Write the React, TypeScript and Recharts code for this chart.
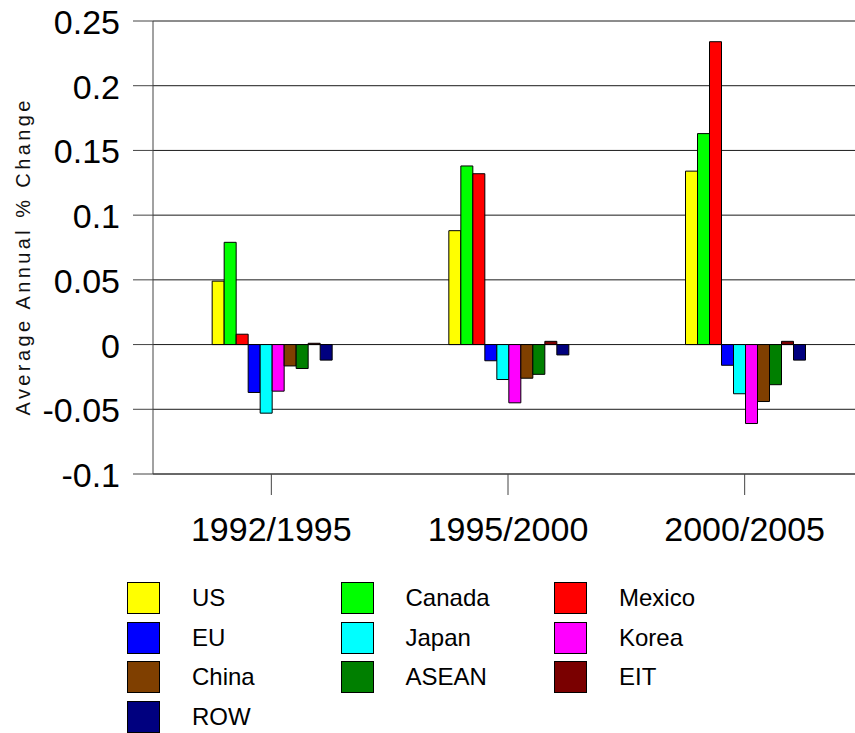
import React from 'react';
import { BarChart, Bar, XAxis, YAxis, CartesianGrid, Legend } from 'recharts';

const categories = ['1992/1995', '1995/2000', '2000/2005'];
const yTicks = [-0.1, -0.05, 0, 0.05, 0.1, 0.15, 0.2, 0.25];

const us = [0.049, 0.088, 0.134];
const canada = [0.079, 0.138, 0.163];
const mexico = [0.008, 0.132, 0.234];
const eu = [-0.037, -0.0125, -0.016];
const japan = [-0.053, -0.027, -0.038];
const korea = [-0.036, -0.045, -0.061];
const china = [-0.0165, -0.026, -0.044];
const asean = [-0.0185, -0.023, -0.031];
const eit = [0.001, 0.0025, 0.0025];
const row = [-0.012, -0.008, -0.012];

const series = [
  { key: 'US', values: us, color: '#ffff00' },
  { key: 'Canada', values: canada, color: '#00ff00' },
  { key: 'Mexico', values: mexico, color: '#ff0000' },
  { key: 'EU', values: eu, color: '#0000ff' },
  { key: 'Japan', values: japan, color: '#00ffff' },
  { key: 'Korea', values: korea, color: '#ff00ff' },
  { key: 'China', values: china, color: '#7f3f00' },
  { key: 'ASEAN', values: asean, color: '#007f00' },
  { key: 'EIT', values: eit, color: '#7a0000' },
  { key: 'ROW', values: row, color: '#00007f' },
];

const data = categories.map((name, i) => {
  const d: any = { name };
  series.forEach(s => { d[s.key] = s.values[i]; });
  return d;
});

const FONT = '"Liberation Sans", Arial, sans-serif';

const CategoryTick = ({ x, y, payload }: any) => (
  <text x={x} y={y} dy={46} textAnchor="middle" fontSize={34} fill="#000" fontFamily={FONT}>
    {payload.value}
  </text>
);

const ValueTick = ({ x, y, payload }: any) => (
  <text x={x} y={y} dy={13} textAnchor="end" fontSize={34} fill="#000" fontFamily={FONT}>
    {payload.value}
  </text>
);

const LegendGrid = () => (
  <div style={{ position: 'relative', width: 700, height: 163, fontFamily: FONT }}>
    {series.map((s, i) => {
      const col = i % 3;
      const r = Math.floor(i / 3);
      const left = 127 + col * 213.5;
      const top = 12 + r * 39.7;
      return (
        <div key={s.key}>
          <div style={{
            position: 'absolute', left, top, width: 33, height: 32,
            background: s.color, border: '1px solid #000', boxSizing: 'border-box',
          }} />
          <div style={{
            position: 'absolute', left: left + 65, top: top - 1, height: 32,
            lineHeight: '34px', fontSize: 24, color: '#000', whiteSpace: 'nowrap',
          }}>{s.key}</div>
        </div>
      );
    })}
  </div>
);

const App: React.FC = () => {
  return (
    <div style={{ position: 'absolute', left: 0, top: 0, width: 855, height: 733, overflow: 'hidden', background: '#fff' }}>
      <BarChart
        width={870}
        height={733}
        data={data}
        margin={{ top: 21, right: 7, left: 0, bottom: 199 }}
        barCategoryGap="25%"
        barGap={0}
      >
        <CartesianGrid vertical={false} stroke="#1a1a1a" />
        <XAxis
          dataKey="name"
          height={60}
          tickSize={21}
          tickMargin={0}
          axisLine={{ stroke: '#444' }}
          tickLine={{ stroke: '#444' }}
          tick={<CategoryTick />}
          interval={0}
        />
        <YAxis
          width={153}
          domain={[-0.1, 0.25]}
          ticks={yTicks}
          interval={0}
          tickSize={20}
          tickMargin={13}
          axisLine={{ stroke: '#444' }}
          tickLine={{ stroke: '#444' }}
          tick={<ValueTick />}
          label={{
            content: () => (
              <text
                transform="translate(30, 258) rotate(-90)"
                textAnchor="middle"
                fontSize={20}
                fill="#111"
                fontFamily={FONT}
                textLength={315}
                lengthAdjust="spacing"
              >
                Average Annual % Change
              </text>
            ),
          }}
        />
        <Legend
          layout="vertical"
          align="center"
          verticalAlign="middle"
          wrapperStyle={{ left: 0, top: 570, width: 700, height: 163 }}
          content={<LegendGrid />}
        />
        {series.map(s => (
          <Bar
            key={s.key}
            dataKey={s.key}
            fill={s.color}
            stroke="#000"
            strokeWidth={1}
            isAnimationActive={false}
          />
        ))}
      </BarChart>
    </div>
  );
};

export default App;
